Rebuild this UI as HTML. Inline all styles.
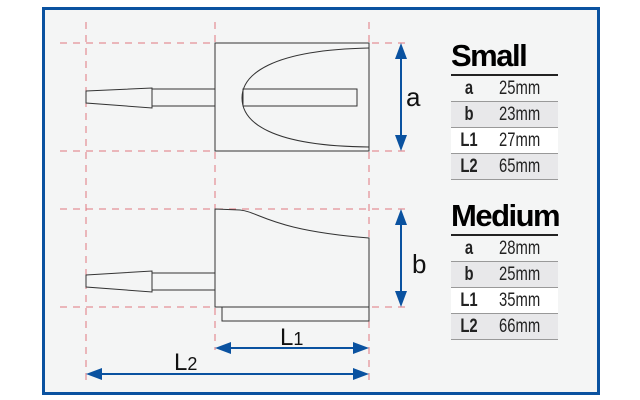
<!DOCTYPE html>
<html><head><meta charset="utf-8"><style>
html,body{margin:0;padding:0;width:640px;height:400px;background:#fff;overflow:hidden}
.f{position:absolute;left:42px;top:7px;width:552px;height:382px;border:3px solid #0a52a0;background:#f4f5f5}
.t{position:absolute;left:451px;width:107px;font-family:"Liberation Sans",sans-serif}
.h{font-weight:bold;font-size:31px;height:37px;line-height:37px;letter-spacing:-1.5px;border-bottom:2.5px solid #222}
.r{height:25px;line-height:25px;border-bottom:1px solid #999;font-size:19px;color:#222;position:relative}
.r b{position:absolute;left:0;width:36px;text-align:center;transform:scaleX(0.78)}
.r span{position:absolute;left:48px;transform:scaleX(0.78);transform-origin:0 50%}
.g{background:#e8e8ea}.w{background:#fff}
</style></head><body>
<div class="f"></div>
<svg width="640" height="400" style="position:absolute;left:0;top:0">
<g stroke="#e07880" stroke-width="1" stroke-dasharray="7,6" fill="none">
<line x1="86" y1="22" x2="86" y2="380"/><line x1="215" y1="22" x2="215" y2="350"/><line x1="369" y1="22" x2="369" y2="380"/>
<line x1="60" y1="43" x2="410" y2="43"/><line x1="60" y1="151" x2="410" y2="151"/>
<line x1="60" y1="209" x2="410" y2="209"/><line x1="60" y1="307" x2="410" y2="307"/>
</g>
<g stroke="#333" stroke-width="1" fill="none">
<rect x="215" y="43" width="154" height="108"/>
<path d="M369,48 C270,50 242,75 242,98 C242,122 270,146 369,147"/>
<rect x="243" y="89" width="114" height="17"/>
<path d="M86,91 L152,88 L152,108 L86,103 Z"/>
<rect x="152" y="89" width="63" height="17"/>
<path d="M215,307 L215,209 L240,210 C260,212 270,230 369,238 L369,307 Z"/>
<path d="M86,275 L152,271 L152,292 L86,287 Z"/>
<rect x="152" y="273" width="63" height="17"/>
<rect x="222" y="307" width="147" height="14"/>
</g>
<g stroke="#0a52a0" stroke-width="2" fill="#0a52a0">
<line x1="401" y1="50" x2="401" y2="144"/><path d="M401,43 l-6,16 h12z M401,151 l-6,-16 h12z" stroke="none"/>
<line x1="401" y1="216" x2="401" y2="300"/><path d="M401,209 l-6,16 h12z M401,307 l-6,-16 h12z" stroke="none"/>
<line x1="222" y1="348" x2="362" y2="348"/><path d="M215,348 l16,-6 v12z M369,348 l-16,-6 v12z" stroke="none"/>
<line x1="93" y1="374" x2="362" y2="374"/><path d="M86,374 l16,-6 v12z M369,374 l-16,-6 v12z" stroke="none"/>
</g>
<g font-family="Liberation Sans,sans-serif" fill="#111">
<text x="406" y="106" font-size="26">a</text>
<text x="412" y="273" font-size="26">b</text>
<text x="280" y="345" font-size="24">L<tspan font-size="18">1</tspan></text>
<text x="174" y="370" font-size="24">L<tspan font-size="18">2</tspan></text>
</g>
</svg>
<div class="t" style="top:37px">
<div class="h">Small</div>
<div class="r"><b>a</b><span>25mm</span></div>
<div class="r g"><b>b</b><span>23mm</span></div>
<div class="r w"><b>L1</b><span>27mm</span></div>
<div class="r g"><b>L2</b><span>65mm</span></div>
</div>
<div class="t" style="top:197px">
<div class="h">Medium</div>
<div class="r"><b>a</b><span>28mm</span></div>
<div class="r g"><b>b</b><span>25mm</span></div>
<div class="r w"><b>L1</b><span>35mm</span></div>
<div class="r g"><b>L2</b><span>66mm</span></div>
</div>
</body></html>
